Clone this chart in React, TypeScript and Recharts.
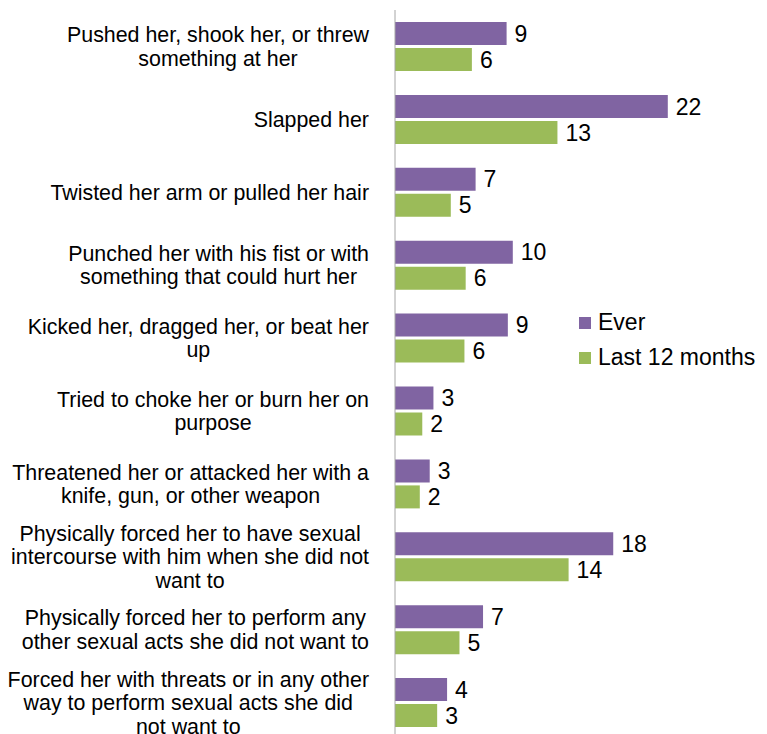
import { BarChart, Bar, XAxis, YAxis, Legend, LabelList } from 'recharts';

const categories = [
    'Pushed her, shook her, or threw\nsomething at her',
    'Slapped her',
    'Twisted her arm or pulled her hair',
    'Punched her with his fist or with\nsomething that could hurt her',
    'Kicked her, dragged her, or beat her\nup',
    'Tried to choke her or burn her on\npurpose',
    'Threatened her or attacked her with a\nknife, gun, or other weapon',
    'Physically forced her to have sexual\nintercourse with him when she did not\nwant to',
    'Physically forced her to perform any\nother sexual acts she did not want to',
    'Forced her with threats or in any other\nway to perform sexual acts she did\nnot want to',
];
const everValues = [9.0, 22.0, 6.5, 9.5, 9.1, 3.1, 2.8, 17.6, 7.1, 4.2];
const last12Values = [6.2, 13.1, 4.5, 5.7, 5.6, 2.2, 2.0, 14.0, 5.2, 3.4];
const seriesNames = ['Ever', 'Last 12 months'];

const PURPLE = '#8064A2';
const GREEN = '#9BBB59';
const FONT = '"Liberation Sans", Arial, sans-serif';
const LABEL_SIZE = 21.4;
const LINE_H = 23.5;
const LABEL_RIGHT = 369;

const data = categories.map((c, i) => ({
    name: c, ever: everValues[i], last12: last12Values[i],
}));

let ctx: CanvasRenderingContext2D | null = null;
function textWidth(s: string) {
    if (!ctx) ctx = document.createElement('canvas').getContext('2d');
    if (!ctx) return s.length * LABEL_SIZE * 0.5;
    ctx.font = `${LABEL_SIZE}px "Liberation Sans"`;
    return ctx.measureText(s).width;
}

function CategoryTick({ y, payload }: any) {
    const lines = String(payload.value).split('\n');
    const w = Math.max(...lines.map(textWidth));
    const cx = LABEL_RIGHT - w / 2;
    const top = y - ((lines.length - 1) * LINE_H) / 2;
    return (
        <text textAnchor="middle" fontSize={LABEL_SIZE} fontFamily={FONT} fill="#000">
            {lines.map((l, i) => (
                <tspan key={i} x={cx} y={top + i * LINE_H} dy="0.35em">{l}</tspan>
            ))}
        </text>
    );
}

function LegendBox({ payload }: any) {
    return (
        <div style={{ fontFamily: FONT, fontSize: 23, color: '#000' }}>
            {(payload || []).map((p: any) => (
                <div key={p.value} style={{ display: 'flex', alignItems: 'center', height: 35 }}>
                    <span style={{ width: 12, height: 12, background: p.color, marginRight: 7 }} />
                    <span>{p.value}</span>
                </div>
            ))}
        </div>
    );
}

const roundLabel = (v: any) => Math.round(Number(v));

export default function App() {
    return (
        <div style={{ position: 'absolute', left: 0, top: 0, width: 767, height: 734, overflow: 'hidden', background: '#fff' }}>
            <BarChart width={767} height={739} data={data} layout="vertical"
                margin={{ top: 10, right: 0, bottom: 0, left: 0 }} barSize={23} barGap={3}>
                <XAxis type="number" domain={[0, 30]} hide />
                <YAxis type="category" dataKey="name" width={395} tickLine={false}
                    axisLine={{ stroke: '#A6A6A6' }} tick={<CategoryTick />} interval={0} />
                <Legend layout="vertical" align="center" verticalAlign="middle"
                    content={<LegendBox />}
                    wrapperStyle={{ left: 579, top: 305, width: 'auto' }} />
                <Bar dataKey="ever" name={seriesNames[0]} fill={PURPLE} isAnimationActive={false}>
                    <LabelList dataKey="ever" position="right" offset={8} fontSize={23}
                        fontFamily={FONT} fill="#000" formatter={roundLabel} />
                </Bar>
                <Bar dataKey="last12" name={seriesNames[1]} fill={GREEN} isAnimationActive={false}>
                    <LabelList dataKey="last12" position="right" offset={8} fontSize={23}
                        fontFamily={FONT} fill="#000" formatter={roundLabel} />
                </Bar>
            </BarChart>
        </div>
    );
}
